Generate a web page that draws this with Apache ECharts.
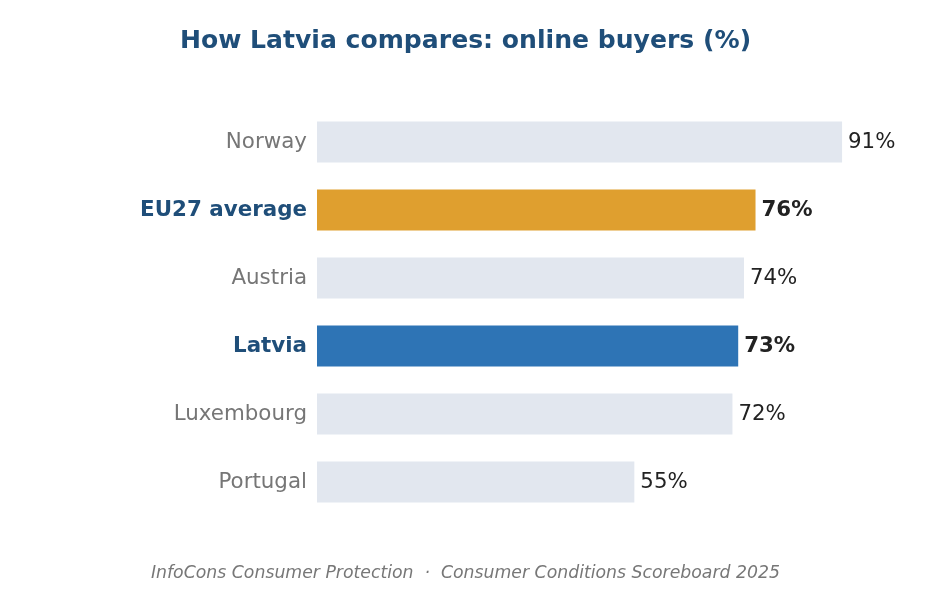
<!DOCTYPE html>
<html><head><meta charset="utf-8">
<script src="https://cdn.jsdelivr.net/npm/echarts@6/dist/echarts.min.js"></script>
<style>html,body{margin:0;padding:0;background:#fff}#c{width:931px;height:589px}</style>
</head><body><div id="c"></div>
<script>
const categories = ["Norway", "EU27 average", "Austria", "Latvia", "Luxembourg", "Portugal"];
const values = [91, 76, 74, 73, 72, 55];
const highlight = { "EU27 average": "#df9f2f", "Latvia": "#2e74b5" };
const baseColor = "#e2e7ef";
const titleText = "How Latvia compares: online buyers (%)";
const footerText = "InfoCons Consumer Protection  ·  Consumer Conditions Scoreboard 2025";

const FONT = "DejaVu Sans";
const chart = echarts.init(document.getElementById('c'));
chart.setOption({
  animation: false,
  backgroundColor: '#fff',
  title: [{
    text: titleText, left: 'center', top: 24,
    textStyle: { fontFamily: FONT, fontSize: 25.1, fontWeight: 'bold', color: '#1f4e79' }
  }, {
    text: footerText, left: 'center', top: 560,
    textStyle: { fontFamily: FONT, fontSize: 17.3, fontStyle: 'italic', fontWeight: 'normal', color: '#777777' }
  }],
  grid: { left: 317, right: 37, top: 108, height: 408 },
  xAxis: { type: 'value', min: 0, max: 100, show: false },
  yAxis: {
    type: 'category', data: categories, inverse: true,
    axisLine: { show: false }, axisTick: { show: false },
    axisLabel: {
      margin: 10,
      formatter: v => highlight[v] ? '{h|' + v + '}' : '{n|' + v + '}',
      rich: {
        n: { fontFamily: FONT, fontSize: 21.4, color: '#767676' },
        h: { fontFamily: FONT, fontSize: 21.4, color: '#1f4e79', fontWeight: 'bold' }
      }
    }
  },
  series: [{
    type: 'bar', barWidth: 41,
    data: values.map((v, i) => ({
      value: v,
      itemStyle: { color: highlight[categories[i]] || baseColor },
      label: { fontWeight: highlight[categories[i]] ? 'bold' : 'normal' }
    })),
    label: {
      show: true, position: 'right', distance: 6,
      formatter: '{c}%', fontFamily: FONT, fontSize: 21.3, color: '#222222'
    }
  }]
});
</script></body></html>
